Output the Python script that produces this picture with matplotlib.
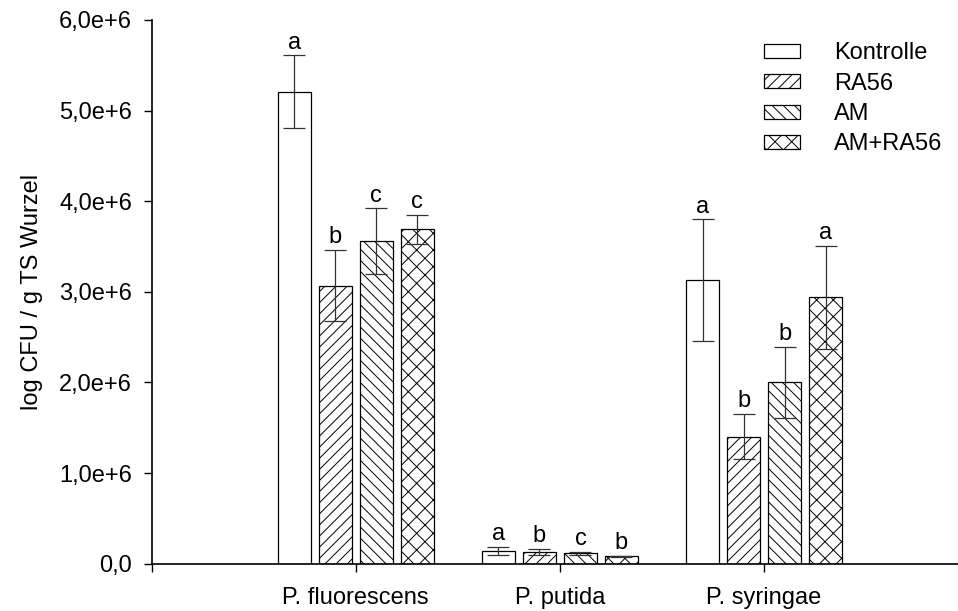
import matplotlib.pyplot as plt
import numpy as np

plt.rcParams['font.family'] = ['Liberation Sans', 'DejaVu Sans']
plt.rcParams['hatch.linewidth'] = 0.7

species = ['P. fluorescens', 'P. putida', 'P. syringae']
treatments = ['Kontrolle', 'RA56', 'AM', 'AM+RA56']

# mean values per treatment (one entry per species)
kontrolle = [5.21e6, 0.143e6, 3.13e6]
ra56 = [3.07e6, 0.132e6, 1.40e6]
am = [3.56e6, 0.115e6, 2.00e6]
am_ra56 = [3.69e6, 0.080e6, 2.94e6]

# error (half-length)
kontrolle_err = [0.40e6, 0.042e6, 0.67e6]
ra56_err = [0.39e6, 0.032e6, 0.25e6]
am_err = [0.36e6, 0.015e6, 0.395e6]
am_ra56_err = [0.16e6, 0.010e6, 0.57e6]

# significance letters
kontrolle_sig = ['a', 'a', 'a']
ra56_sig = ['b', 'b', 'b']
am_sig = ['c', 'c', 'b']
am_ra56_sig = ['c', 'b', 'a']

yticks = [0, 1e6, 2e6, 3e6, 4e6, 5e6, 6e6]
ytick_labels = ['0,0', '1,0e+6', '2,0e+6', '3,0e+6', '4,0e+6', '5,0e+6', '6,0e+6']

means = [kontrolle, ra56, am, am_ra56]
errs = [kontrolle_err, ra56_err, am_err, am_ra56_err]
sigs = [kontrolle_sig, ra56_sig, am_sig, am_ra56_sig]
hatches = ['', '///', '\\\\\\', 'xx']

fig = plt.figure(figsize=(9.58, 6.11), dpi=100)
ax = fig.add_axes([0.1583, 0.0774, 0.8417, 0.8899])

x = np.arange(len(species))
width = 0.162
fs = 17

for j in range(4):
    pos = x + (j - 1.5) * 0.201
    ax.bar(pos, means[j], width, color='white', edgecolor='black',
           linewidth=0.9, hatch=hatches[j], label=treatments[j], zorder=2)
    ax.errorbar(pos, means[j], yerr=errs[j], fmt='none', ecolor='#333333',
                elinewidth=0.9, capsize=8, capthick=0.9, zorder=3)
    for k in range(len(species)):
        ax.text(pos[k], means[j][k] + errs[j][k] + 0.02e6, sigs[j][k],
                ha='center', va='bottom', fontsize=fs)

ax.set_xlim(-1.0, 2.95)
ax.set_ylim(0, 6e6)
ax.set_xticks(x)
ax.set_xticklabels(species, fontsize=fs)
ax.set_xticks([-1.0], minor=True)
ax.set_yticks(yticks)
ax.set_yticklabels(ytick_labels, fontsize=fs)
ax.tick_params(axis='both', which='both', direction='out', length=6, width=1.0)
ax.tick_params(axis='y', pad=8)
ax.tick_params(axis='x', pad=11)
ax.set_ylabel('log CFU / g TS Wurzel', fontsize=fs, labelpad=12)

for s in ['top', 'right']:
    ax.spines[s].set_visible(False)
for s in ['left', 'bottom']:
    ax.spines[s].set_linewidth(1.2)

ax.legend(loc='upper left', bbox_to_anchor=(764 / 958, (611 - 42) / 611),
          bbox_transform=fig.transFigure, frameon=False, borderpad=0,
          borderaxespad=0, fontsize=fs, handlelength=1.52, handleheight=0.55,
          handletextpad=1.44, labelspacing=0.36)

fig.savefig('out.png', dpi=100)
